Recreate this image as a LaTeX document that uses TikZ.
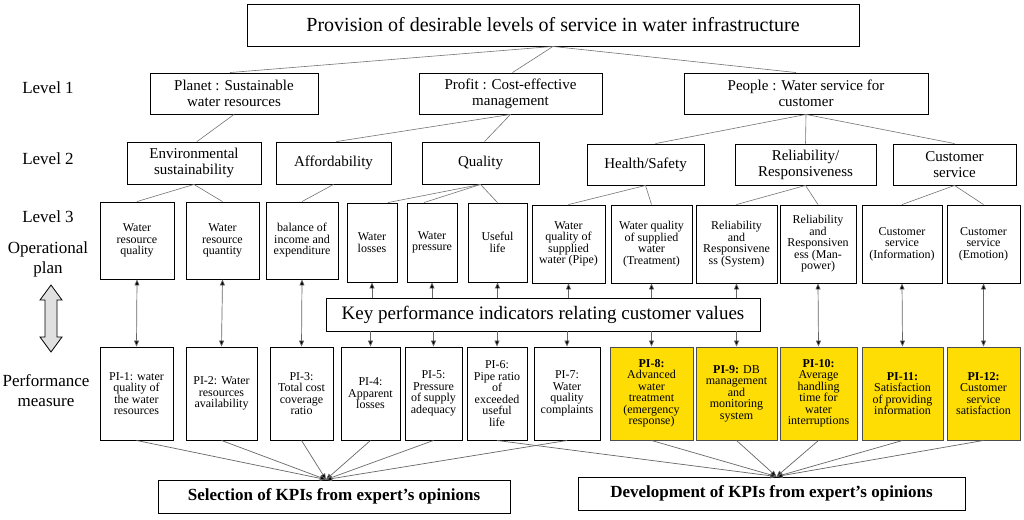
\documentclass[tikz,border=0pt]{standalone}
\usepackage{fontspec}
\setmainfont{Liberation Serif}
\usetikzlibrary{arrows.meta,calc}
\newcommand\bx[7][]{\node[box,#1,minimum width={(#5-#3)*1pt},minimum height={(#6-#4)*1pt}] (#2) at ({(#3+#5)/2},{-(#4+#6)/2}) {#7};}
\begin{document}
\begin{tikzpicture}[x=1pt,y=1pt,
  box/.style={draw=black,line width=0.9pt,align=center,inner sep=1pt,font=\fontsize{12}{11.5}\selectfont},
  lv1/.style={font=\fontsize{15}{16}\selectfont},
  pi/.style={fill=yellow!80!orange,draw=black!70},
  con/.style={draw=black!55,line width=0.6pt},
  arr/.style={draw=black!60,line width=0.7pt,-{Triangle[length=6pt,width=5pt,fill=black]}},
  darr/.style={draw=black!60,line width=0.7pt,{Triangle[length=6pt,width=5pt,fill=black]}-{Triangle[length=6pt,width=5pt,fill=black]}},
  lab/.style={align=center,font=\fontsize{17}{21}\selectfont}]
\useasboundingbox (0,0) rectangle (1024,-519);
% title
\bx[font=\fontsize{20}{22}\selectfont]{title}{247}{4}{859}{46}{Provision of desirable levels of service in water infrastructure}
% level 1
\bx[lv1]{planet}{150}{73}{318}{114}{Planet : Sustainable\\water resources}
\bx[lv1]{profit}{419}{73}{602}{114}{Profit : Cost-effective\\management}
\bx[lv1]{people}{684}{73}{928}{114}{People : Water service for\\customer}
% level 2
\bx[lv1]{env}{127}{142}{261}{184}{Environmental\\sustainability}
\bx[lv1]{aff}{276}{142}{391}{184}{Affordability}
\bx[lv1]{qual}{422}{142}{539}{184}{Quality}
\bx[lv1]{hs}{587}{144}{704}{185}{Health/Safety}
\bx[lv1]{rel}{735}{144}{876}{185}{Reliability/\\Responsiveness}
\bx[lv1]{cs}{893}{144}{1016}{185}{Customer\\service}
% level 3
\bx{b1}{100}{202}{174}{279}{Water\\resource\\quality}
\bx{b2}{186}{202}{259}{279}{Water\\resource\\quantity}
\bx{b3}{266}{202}{338}{279}{balance of\\income and\\expenditure}
\bx{b4}{347}{203}{397}{282}{Water\\losses}
\bx{b5}{407}{203}{457}{282}{Water\\pressure}
\bx{b6}{468}{203}{527}{282}{Useful\\life}
\bx{b7}{532}{205}{605}{283}{Water\\quality of\\supplied\\water (Pipe)}
\bx{b8}{611}{205}{692}{283}{Water quality\\of supplied\\water\\(Treatment)}
\bx{b9}{696}{205}{777}{283}{Reliability\\and\\Responsivene\\ss (System)}
\bx{b10}{780}{205}{856}{283}{Reliability\\and\\Responsiven\\ess (Man-\\power)}
\bx{b11}{862}{205}{942}{283}{Customer\\service\\(Information)}
\bx{b12}{947}{205}{1020}{283}{Customer\\service\\(Emotion)}
% KPI
\bx[font=\fontsize{19}{20}\selectfont]{kpi}{326}{298}{760}{331}{Key performance indicators relating customer values}
% PI
\bx{p1}{100}{347}{173}{440}{PI-1: water\\quality of\\the water\\resources}
\bx{p2}{186}{347}{257}{440}{PI-2: Water\\resources\\availability}
\bx{p3}{270}{347}{333}{440}{PI-3:\\Total cost\\coverage\\ratio}
\bx{p4}{341}{347}{400}{440}{PI-4:\\Apparent\\losses}
\bx{p5}{405}{347}{462}{440}{PI-5:\\Pressure\\of supply\\adequacy}
\bx{p6}{467}{347}{527}{440}{PI-6:\\Pipe ratio\\of\\exceeded\\useful\\life}
\bx{p7}{534}{347}{600}{440}{PI-7:\\Water\\quality\\complaints}
\bx[pi]{p8}{610}{347}{693}{440}{\textbf{PI-8:}\\Advanced\\water\\treatment\\(emergency\\response)}
\bx[pi]{p9}{696}{347}{777}{440}{\textbf{PI-9:} DB\\management\\and\\monitoring\\system}
\bx[pi]{p10}{780}{347}{857}{440}{\textbf{PI-10:}\\Average\\handling\\time for\\water\\interruptions}
\bx[pi]{p11}{862}{347}{943}{440}{\textbf{PI-11:}\\Satisfaction\\of providing\\information}
\bx[pi]{p12}{947}{347}{1020}{440}{\textbf{PI-12:}\\Customer\\service\\satisfaction}
% bottom
\bx[font=\fontsize{17}{18}\selectfont\bfseries]{sel}{158}{480}{510}{513}{Selection of KPIs from expert's opinions}
\bx[font=\fontsize{17}{18}\selectfont\bfseries]{dev}{578}{477}{965}{510}{Development of KPIs from expert's opinions}
% labels
\node[lab] (l1) at (48,-88) {Level 1};
\node[lab] (l2) at (48,-159) {Level 2};
\node[lab] (l3) at (48,-217) {Level 3};
\node[lab,font=\fontsize{17}{20}\selectfont] (op) at (48,-259) {Operational\\plan};
\node[lab,font=\fontsize{17}{20}\selectfont] (pm) at (46,-391) {Performance\\measure};
\draw[fill=black!12,line width=0.8pt] (51,-285) -- (62,-300) -- (57,-300) -- (57,-337) -- (62,-337) -- (51,-352) -- (40,-337) -- (45,-337) -- (45,-300) -- (40,-300) -- cycle;
% tree connectors
\path[con] (title.south) -- ([xshift=-4pt]planet.north);
\path[con] (title.south) -- ([xshift=2pt]profit.north);
\path[con] (title.south) -- ([xshift=-10pt]people.north);
\path[con] (planet.south) -- ([xshift=3pt]env.north);
\path[con] (profit.south) -- ([xshift=3pt]aff.north);
\path[con] (profit.south) -- ([xshift=4pt]qual.north);
\path[con] (people.south) -- ([xshift=10pt]hs.north);
\path[con] (people.south) -- (rel.north);
\path[con] (people.south) -- (cs.north);
\path[con] (env.south) -- (b1.north);
\path[con] (env.south) -- (b2.north);
\path[con] (aff.south) -- (b3.north);
\path[con] (qual.south) -- ([xshift=16pt]b4.north);
\path[con] (qual.south) -- ([xshift=-8pt]b5.north);
\path[con] (qual.south) -- (b6.north);
\path[con] (hs.south) -- (b7.north);
\path[con] (hs.south) -- (b8.north);
\path[con] (rel.south) -- (b9.north);
\path[con] (rel.south) -- (b10.north);
\path[con] (cs.south) -- (b11.north);
\path[con] (cs.south) -- (b12.north);
% arrows
\foreach \i in {1,2,3,10,11,12} {\path[darr] (b\i.south) -- (p\i.north);}
\foreach \i in {4,...,9} {
  \path[arr] (b\i.south |- kpi.north) -- (b\i.south);
  \path[arr] (p\i.north |- kpi.south) -- (p\i.north);
}
\coordinate (st) at ([xshift=-8pt]sel.north);
\coordinate (dt) at ([xshift=5pt]dev.north);
\foreach \i in {1,2,3,4,5,7} {\path[arr] (p\i.south) -- (st);}
\foreach \i in {6,8,9,10,11,12} {\path[arr] (p\i.south) -- (dt);}
\end{tikzpicture}
\end{document}
